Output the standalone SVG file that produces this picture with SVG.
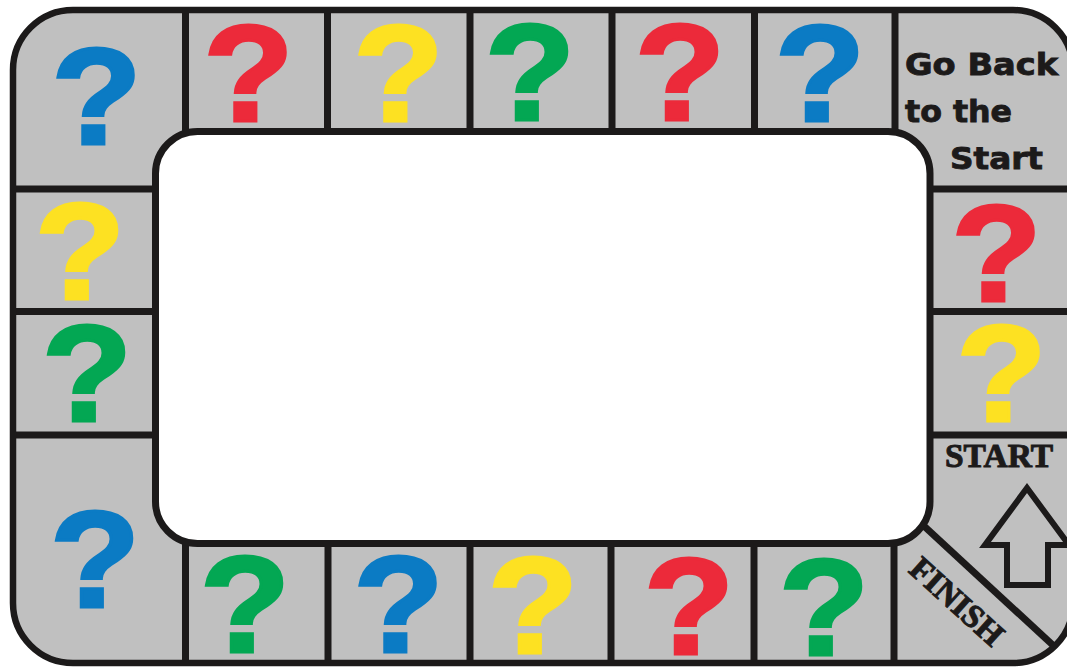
<svg xmlns="http://www.w3.org/2000/svg" width="1067" height="667" viewBox="0 0 1067 667">
<defs>
<style>
.q{font-family:"Liberation Sans",Arial,sans-serif;font-weight:bold;font-size:137px;text-anchor:middle;stroke-width:3;stroke-linejoin:miter}
.b{fill:#0b7bc4;stroke:#0b7bc4}.r{fill:#ec2a3a;stroke:#ec2a3a}.y{fill:#fde122;stroke:#fde122}.g{fill:#03a753;stroke:#03a753}
.sep{stroke:#1c1a1a;stroke-width:7;fill:none}
.go{font-family:"DejaVu Sans",Verdana,sans-serif;font-weight:bold;font-size:31px;fill:#1c1a1a;stroke:#1c1a1a;stroke-width:0.9}
.st{font-family:"Liberation Serif","Times New Roman",serif;font-weight:bold;font-size:33px;fill:#1c1a1a;stroke:#1c1a1a;stroke-width:1;text-anchor:middle}
</style>
</defs>
<rect width="1067" height="667" fill="#ffffff"/>
<g id="board">
<rect x="13" y="10" width="1060" height="653" rx="60" fill="#c0c0c0"/>
</g>
<g id="connectors" class="sep">
<path d="M185.5 10V132M327.5 10V132M470 10V132M612 10V132M754.5 10V132M895 10V132"/>
<path d="M185.5 543V663M328 543V663M470 543V663M611 543V663M754 543V663M894 543V663"/>
<path d="M13 189H156M13 311.5H156M13 435H156"/>
<path d="M930 189H1073M930 311.5H1073M930 435H1073"/>
<path d="M905 508.5L1056 648"/>
</g>
<g id="frame">
<rect x="13" y="10" width="1060" height="653" rx="60" fill="none" stroke="#1c1a1a" stroke-width="6.5"/>
<rect x="155.5" y="131.5" width="774.5" height="412" rx="42" fill="#ffffff" stroke="#1c1a1a" stroke-width="7"/>
</g>
<g id="tile-top-left"><text class="q b" transform="translate(96.5,143.5) scale(1.08,1)">?</text></g>
<g id="tile-top-1"><text class="q r" transform="translate(248.5,120.5) scale(1.08,1)">?</text></g>
<g id="tile-top-2"><text class="q y" transform="translate(398.5,120.5) scale(1.08,1)">?</text></g>
<g id="tile-top-3"><text class="q g" transform="translate(530,119.5) scale(1.08,1)">?</text></g>
<g id="tile-top-4"><text class="q r" transform="translate(680,119.5) scale(1.08,1)">?</text></g>
<g id="tile-top-5"><text class="q b" transform="translate(820,120.5) scale(1.08,1)">?</text></g>
<g id="tile-go-back">
<text class="go" x="905" y="75" textLength="153" lengthAdjust="spacingAndGlyphs">Go Back</text>
<text class="go" x="905" y="122" textLength="107" lengthAdjust="spacingAndGlyphs">to the</text>
<text class="go" x="950" y="169" textLength="93" lengthAdjust="spacingAndGlyphs">Start</text>
</g>
<g id="tile-right-1"><text class="q r" transform="translate(996.5,300.5) scale(1.08,1)">?</text></g>
<g id="tile-right-2"><text class="q y" transform="translate(1001.5,420.5) scale(1.08,1)">?</text></g>
<g id="tile-start">
<text class="st" x="999" y="467" textLength="108" lengthAdjust="spacingAndGlyphs">START</text>
<polygon points="1027,488 1069,545 1048,545 1048,585 1007,585 1007,545 985,545" fill="#c0c0c0" stroke="#1c1a1a" stroke-width="6" stroke-linejoin="miter"/>
</g>
<g id="tile-finish">
<text class="st" transform="translate(949.5,609.7) rotate(42)" textLength="114" lengthAdjust="spacingAndGlyphs">FINISH</text>
</g>
<g id="tile-bottom-5"><text class="q g" transform="translate(824,654.5) scale(1.08,1)">?</text></g>
<g id="tile-bottom-4"><text class="q r" transform="translate(689,653.5) scale(1.08,1)">?</text></g>
<g id="tile-bottom-3"><text class="q y" transform="translate(533,652.5) scale(1.08,1)">?</text></g>
<g id="tile-bottom-2"><text class="q b" transform="translate(398.5,651.5) scale(1.08,1)">?</text></g>
<g id="tile-bottom-1"><text class="q g" transform="translate(245,651.5) scale(1.08,1)">?</text></g>
<g id="tile-bottom-left"><text class="q b" transform="translate(95,606.5) scale(1.08,1)">?</text></g>
<g id="tile-left-2"><text class="q g" transform="translate(87,420.5) scale(1.08,1)">?</text></g>
<g id="tile-left-1"><text class="q y" transform="translate(80,298.5) scale(1.08,1)">?</text></g>
</svg>
